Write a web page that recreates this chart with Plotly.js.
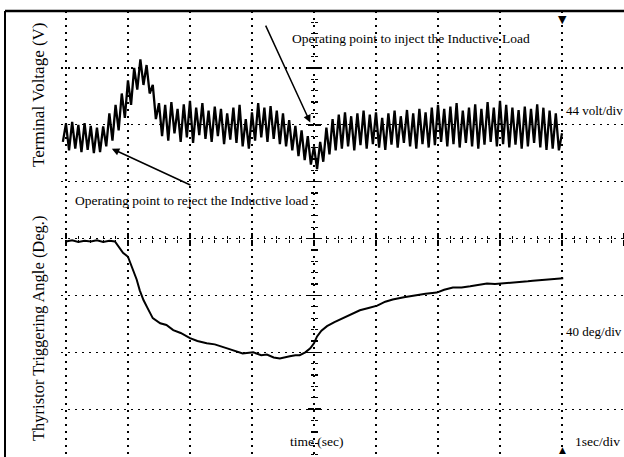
<!DOCTYPE html>
<html>
<head>
<meta charset="utf-8">
<script src="https://cdn.plot.ly/plotly-3.0.1.min.js"></script>
<style>html,body{margin:0;padding:0;background:#fff;}#chart{width:624px;height:457px;}</style>
</head>
<body>
<div id="chart"></div>
<script>
// Time base (sec) and terminal voltage trace (screen divisions, 44 V/div)
const voltT = [
0.95,1.00,1.05,1.10,1.15,1.20,1.25,1.30,1.35,1.40,
1.45,1.50,1.55,1.60,1.65,1.70,1.75,1.80,1.85,1.90,
1.95,2.00,2.05,2.10,2.15,2.20,2.25,2.30,2.35,2.40,
2.45,2.50,2.55,2.60,2.65,2.70,2.75,2.80,2.85,2.90,
2.95,3.00,3.05,3.10,3.15,3.20,3.25,3.30,3.35,3.40,
3.45,3.50,3.55,3.60,3.65,3.70,3.75,3.80,3.85,3.90,
3.95,4.00,4.05,4.10,4.15,4.20,4.25,4.30,4.35,4.40,
4.45,4.50,4.55,4.60,4.65,4.70,4.75,4.80,4.85,4.90,
4.95,5.00,5.05,5.10,5.15,5.20,5.25,5.30,5.35,5.40,
5.45,5.50,5.55,5.60,5.65,5.70,5.75,5.80,5.85,5.90,
5.95,6.00,6.05,6.10,6.15,6.20,6.25,6.30,6.35,6.40,
6.45,6.50,6.55,6.60,6.65,6.70,6.75,6.80,6.85,6.90,
6.95,7.00,7.05,7.10,7.15,7.20,7.25,7.30,7.35,7.40,
7.45,7.50,7.55,7.60,7.65,7.70,7.75,7.80,7.85,7.90,
7.95,8.00,8.05,8.10,8.15,8.20,8.25,8.30,8.35,8.40,
8.45,8.50,8.55,8.60,8.65,8.70,8.75,8.80,8.85,8.90,
8.95,9.00];
const voltDiv = [
1.70,2.02,1.55,2.05,1.58,2.00,1.52,2.03,1.56,1.98,
1.50,1.95,1.52,1.97,1.62,2.20,1.72,2.35,1.90,2.55,
2.12,2.78,2.35,3.00,2.62,3.15,2.70,3.05,2.55,2.70,
2.10,2.38,1.80,2.35,1.72,2.40,1.85,2.28,1.70,2.36,
1.78,2.42,1.68,2.30,1.82,2.38,1.75,2.25,1.70,2.32,
1.80,2.28,1.66,2.20,1.74,2.30,1.68,2.35,1.62,2.10,
1.58,2.22,1.72,2.38,1.78,2.30,1.70,2.33,1.75,2.25,
1.66,2.20,1.62,2.08,1.55,1.98,1.45,1.90,1.38,1.80,
1.30,1.62,1.22,1.70,1.35,1.95,1.48,2.10,1.55,2.18,
1.58,2.22,1.62,2.15,1.55,2.20,1.64,2.25,1.58,2.18,
1.66,2.22,1.60,2.12,1.56,2.20,1.65,2.25,1.60,2.15,
1.68,2.26,1.62,2.20,1.58,2.28,1.66,2.22,1.60,2.30,
1.64,2.35,1.70,2.28,1.62,2.32,1.66,2.38,1.60,2.25,
1.68,2.30,1.62,2.36,1.58,2.28,1.65,2.40,1.70,2.30,
1.62,2.42,1.66,2.35,1.60,2.30,1.65,2.26,1.58,2.32,
1.62,2.28,1.68,2.36,1.60,2.30,1.56,2.25,1.58,2.20,
1.55,1.85];

// Thyristor triggering angle trace (screen divisions, 40 deg/div)
const angleT = [1.00,1.10,1.20,1.30,1.40,1.50,1.60,1.70,1.79,1.86,1.92,2.00,2.08,2.14,2.19,2.25,2.31,2.40,2.52,2.62,
2.73,2.85,3.00,3.12,3.27,3.40,3.60,3.72,3.85,4.02,4.15,4.24,4.35,4.45,4.55,4.61,4.70,4.77,4.86,4.94,
5.00,5.05,5.12,5.21,5.33,5.47,5.60,5.74,5.88,6.02,6.15,6.27,6.45,6.60,6.80,6.98,7.10,7.24,7.38,7.52,
7.65,7.79,7.92,8.05,8.20,8.32,8.45,8.53,8.65,8.81,8.92,9.02];
const angleDiv = [-0.05,-0.03,-0.06,-0.04,-0.05,-0.03,-0.06,-0.04,-0.05,-0.15,-0.25,-0.32,-0.56,-0.72,-0.91,-1.08,-1.21,-1.40,-1.49,-1.52,
-1.61,-1.66,-1.75,-1.80,-1.84,-1.86,-1.93,-1.97,-2.02,-2.00,-2.05,-2.04,-2.09,-2.11,-2.08,-2.07,-2.05,-2.05,-2.00,-1.93,
-1.84,-1.72,-1.62,-1.54,-1.47,-1.40,-1.34,-1.26,-1.22,-1.18,-1.11,-1.07,-1.03,-1.00,-0.97,-0.95,-0.90,-0.86,-0.86,-0.84,
-0.81,-0.79,-0.80,-0.79,-0.77,-0.77,-0.75,-0.74,-0.73,-0.72,-0.70,-0.70];

// Screen: gridded area from 1 s onward; 8 vertical divisions
const xRange = [0.92, 10];
const yRange = [-3.84, 4];
const centerT = 5;
const labels = {
  volt: 'Terminal Voltage (V)',
  angle: 'Thyristor Triggering Angle (Deg.)',
  inject: 'Operating point to inject the Inductive Load',
  reject: 'Operating point to reject the Inductive load',
  vScale: '44 volt/div',
  aScale: '40 deg/div',
  tScale: '1sec/div',
  tAxis: 'time (sec)'
};

const FONT = 'Liberation Serif, Times New Roman, serif';
const W = 624, H = 457, ML = 61, MT = 11;
const PW = W - ML, PH = H - MT;
const posX = (0 - yRange[0]) / (yRange[1] - yRange[0]);
const posY = (centerT - xRange[0]) / (xRange[1] - xRange[0]);
const frameLeft = (5 - ML) / PW;
const labelX = (38 - ML) / PW;

const gridAxis = {
  range: xRange, dtick: 1, tick0: 0, showgrid: true, gridcolor: '#000', gridwidth: 1.4,
  griddash: '2px,5px', zeroline: false, showticklabels: false, ticks: '', showline: false, fixedrange: true
};
function centerAxis(extra) {
  return Object.assign({
    showgrid: false, zeroline: false, showticklabels: false, showline: false,
    ticks: 'outside', ticklen: 6, tickwidth: 1.5, tickcolor: '#000', dtick: 1, tick0: 0,
    minor: {ticks: 'outside', ticklen: 3, tickwidth: 1.2, tickcolor: '#000', dtick: 0.2, tick0: 0, showgrid: false},
    fixedrange: true
  }, extra);
}

const traces = [
  {x: voltT, y: voltDiv, type: 'scatter', mode: 'lines', xaxis: 'x', yaxis: 'y',
   line: {color: '#000', width: 2.3}, hoverinfo: 'skip'},
  {x: angleT, y: angleDiv, type: 'scatter', mode: 'lines', xaxis: 'x2', yaxis: 'y2',
   line: {color: '#000', width: 2}, hoverinfo: 'skip'},
  {x: [], y: [], type: 'scatter', mode: 'lines', xaxis: 'x3', yaxis: 'y3', hoverinfo: 'skip'}
];

const layout = {
  width: W, height: H,
  margin: {l: ML, r: 0, t: MT, b: 0, pad: 0},
  paper_bgcolor: '#fff', plot_bgcolor: '#fff',
  showlegend: false,
  font: {family: FONT, color: '#000', size: 13},
  xaxis: Object.assign({}, gridAxis),
  yaxis: Object.assign({}, gridAxis, {range: yRange}),
  xaxis2: centerAxis({range: xRange, overlaying: 'x', anchor: 'free', position: posX, side: 'bottom'}),
  xaxis3: centerAxis({range: xRange, overlaying: 'x', anchor: 'free', position: posX, side: 'top'}),
  yaxis2: centerAxis({range: yRange, overlaying: 'y', anchor: 'free', position: posY, side: 'left'}),
  yaxis3: centerAxis({range: yRange, overlaying: 'y', anchor: 'free', position: posY, side: 'right'}),
  shapes: [
    {type: 'line', xref: 'paper', yref: 'paper', x0: frameLeft, x1: frameLeft, y0: -0.02, y1: 1,
     line: {color: '#000', width: 2}},
    {type: 'line', xref: 'paper', yref: 'paper', x0: frameLeft, x1: 1, y0: 1, y1: 1,
     line: {color: '#000', width: 2.5}}
  ],
  annotations: [
    {text: labels.volt, xref: 'paper', yref: 'paper', x: labelX, y: 1 - (95 - MT) / PH, textangle: -90,
     xanchor: 'center', yanchor: 'middle', showarrow: false, font: {size: 17, family: FONT}},
    {text: labels.angle, xref: 'paper', yref: 'paper', x: labelX, y: 1 - (329 - MT) / PH, textangle: -90,
     xanchor: 'center', yanchor: 'middle', showarrow: false, font: {size: 16.5, family: FONT}},
    {text: labels.inject, xref: 'x', yref: 'y', x: 4.61, y: 3.51, xanchor: 'left', showarrow: false,
     font: {size: 13.5, family: FONT}},
    {text: '', xref: 'x', yref: 'y', x: 4.94, y: 2.04, axref: 'x', ayref: 'y', ax: 4.21, ay: 3.77,
     showarrow: true, arrowhead: 2, arrowsize: 1, arrowwidth: 1.5, arrowcolor: '#000'},
    {text: labels.reject, xref: 'x', yref: 'y', x: 1.11, y: 0.67, xanchor: 'left', showarrow: false,
     font: {size: 13.5, family: FONT}},
    {text: '', xref: 'x', yref: 'y', x: 1.74, y: 1.58, axref: 'x', ayref: 'y', ax: 3.03, ay: 0.93,
     showarrow: true, arrowhead: 2, arrowsize: 1, arrowwidth: 1.5, arrowcolor: '#000'},
    {text: labels.vScale, xref: 'x', yref: 'y', x: 9.03, y: 2.25, xanchor: 'left', showarrow: false,
     font: {size: 13, family: FONT}},
    {text: labels.aScale, xref: 'x', yref: 'y', x: 9.03, y: -1.63, xanchor: 'left', showarrow: false,
     font: {size: 13, family: FONT}},
    {text: labels.tScale, xref: 'x', yref: 'y', x: 9.18, y: -3.56, xanchor: 'left', showarrow: false,
     font: {size: 13.5, family: FONT}},
    {text: labels.tAxis, xref: 'x', yref: 'y', x: 5.05, y: -3.56, showarrow: false,
     font: {size: 13.5, family: FONT}},
    {text: '▼', xref: 'x', yref: 'paper', x: 9, y: 1, yanchor: 'top', showarrow: false,
     font: {size: 11, family: 'DejaVu Sans'}},
    {text: '▲', xref: 'x', yref: 'paper', x: 9, y: 0, yanchor: 'bottom', showarrow: false,
     font: {size: 9, family: 'DejaVu Sans'}}
  ]
};

Plotly.newPlot('chart', traces, layout, {staticPlot: true, displayModeBar: false});
</script>
</body>
</html>
